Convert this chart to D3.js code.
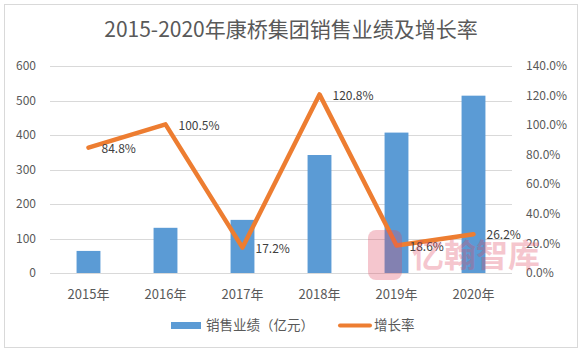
<!DOCTYPE html>
<html>
<head>
<meta charset="utf-8">
<script src="https://cdn.jsdelivr.net/npm/d3@7"></script>
<style>
  body { margin: 0; background: #fff; }
  text { font-family: "Noto Sans CJK SC", "Noto Sans", sans-serif; }
</style>
</head>
<body>
<div id="chart"></div>
<script>
var width = 584, height = 354;

// data
var years = ["2015年", "2016年", "2017年", "2018年", "2019年", "2020年"];
var sales = [64, 131, 154, 342, 407, 514];
var growth = [84.8, 100.5, 17.2, 120.8, 18.6, 26.2];
var leftTicks = [0, 100, 200, 300, 400, 500, 600];
var rightTicks = [0, 20, 40, 60, 80, 100, 120, 140];

var barColor = "#5B9BD5", lineColor = "#ED7D31";

var svg = d3.select("#chart").append("svg")
    .attr("width", width)
    .attr("height", height);

// outer frame
svg.append("rect")
    .attr("x", 4.5).attr("y", 4.5)
    .attr("width", 573).attr("height", 343)
    .attr("fill", "#fff")
    .attr("stroke", "#d9d9d9");

svg.append("text")
    .attr("x", 291).attr("y", 37)
    .attr("text-anchor", "middle")
    .attr("font-size", "21px")
    .attr("fill", "#595959")
    .text("2015-2020年康桥集团销售业绩及增长率");

var x = d3.scaleBand()
    .domain(years)
    .range([50, 512])
    .paddingInner(0.69)
    .paddingOuter(0.345);

var y = d3.scaleLinear().domain([0, 600]).range([273, 66]);
var y2 = d3.scaleLinear().domain([0, 140]).range([273, 66]);

// gridlines
svg.append("g")
  .selectAll("line")
  .data(leftTicks)
  .enter().append("line")
    .attr("x1", 50).attr("x2", 512)
    .attr("y1", function(d) { return Math.round(y(d)) + 0.5; })
    .attr("y2", function(d) { return Math.round(y(d)) + 0.5; })
    .attr("stroke", "#d9d9d9");

// left axis labels
svg.append("g")
  .selectAll("text")
  .data(leftTicks)
  .enter().append("text")
    .attr("x", 36)
    .attr("y", function(d) { return y(d); })
    .attr("dy", "0.35em")
    .attr("text-anchor", "end")
    .attr("font-size", "12px")
    .attr("fill", "#595959")
    .text(function(d) { return d; });

// right axis labels
svg.append("g")
  .selectAll("text")
  .data(rightTicks)
  .enter().append("text")
    .attr("x", 526)
    .attr("y", function(d) { return y2(d); })
    .attr("dy", "0.35em")
    .attr("font-size", "12px")
    .attr("fill", "#595959")
    .text(function(d) { return d.toFixed(1) + "%"; });

// category labels
svg.append("g")
  .selectAll("text")
  .data(years)
  .enter().append("text")
    .attr("x", function(d) { return x(d) + x.bandwidth() / 2; })
    .attr("y", 294)
    .attr("dy", "0.35em")
    .attr("text-anchor", "middle")
    .attr("font-size", "13px")
    .attr("fill", "#595959")
    .text(function(d) { return d; });

// bars
svg.append("g")
  .selectAll("rect")
  .data(sales)
  .enter().append("rect")
    .attr("x", function(d, i) { return x(years[i]); })
    .attr("y", function(d) { return y(d); })
    .attr("width", x.bandwidth())
    .attr("height", function(d) { return y(0) - y(d); })
    .attr("fill", barColor);

// growth line
var line = d3.line()
    .x(function(d, i) { return x(years[i]) + x.bandwidth() / 2; })
    .y(function(d) { return y2(d); });

svg.append("path")
    .datum(growth)
    .attr("d", line)
    .attr("fill", "none")
    .attr("stroke", lineColor)
    .attr("stroke-width", 4.5)
    .attr("stroke-linejoin", "round")
    .attr("stroke-linecap", "round");

// data labels
svg.append("g")
  .selectAll("text")
  .data(growth)
  .enter().append("text")
    .attr("x", function(d, i) { return x(years[i]) + x.bandwidth() / 2 + 13; })
    .attr("y", function(d) { return y2(d) + 1; })
    .attr("dy", "0.35em")
    .attr("font-size", "12px")
    .attr("fill", "#404040")
    .text(function(d) { return d.toFixed(1) + "%"; });

// legend
svg.append("rect")
    .attr("x", 171).attr("y", 322)
    .attr("width", 30).attr("height", 7)
    .attr("fill", barColor);
svg.append("text")
    .attr("x", 206).attr("y", 325.5)
    .attr("dy", "0.35em")
    .attr("font-size", "13.5px")
    .attr("fill", "#595959")
    .text("销售业绩（亿元）");
svg.append("line")
    .attr("x1", 340).attr("x2", 370)
    .attr("y1", 325.5).attr("y2", 325.5)
    .attr("stroke", lineColor)
    .attr("stroke-width", 4)
    .attr("stroke-linecap", "round");
svg.append("text")
    .attr("x", 374).attr("y", 325.5)
    .attr("dy", "0.35em")
    .attr("font-size", "13.5px")
    .attr("fill", "#595959")
    .text("增长率");

// watermark
var wm = svg.append("g").attr("opacity", 0.3);
wm.append("rect")
    .attr("x", 368).attr("y", 230)
    .attr("width", 34).attr("height", 50)
    .attr("rx", 8)
    .attr("fill", "#e0475f");
wm.append("text")
    .attr("x", 476).attr("y", 256)
    .attr("dy", "0.35em")
    .attr("text-anchor", "middle")
    .attr("font-size", "32px")
    .attr("font-weight", "bold")
    .attr("fill", "#e0475f")
    .text("亿翰智库");
</script>
</body>
</html>
